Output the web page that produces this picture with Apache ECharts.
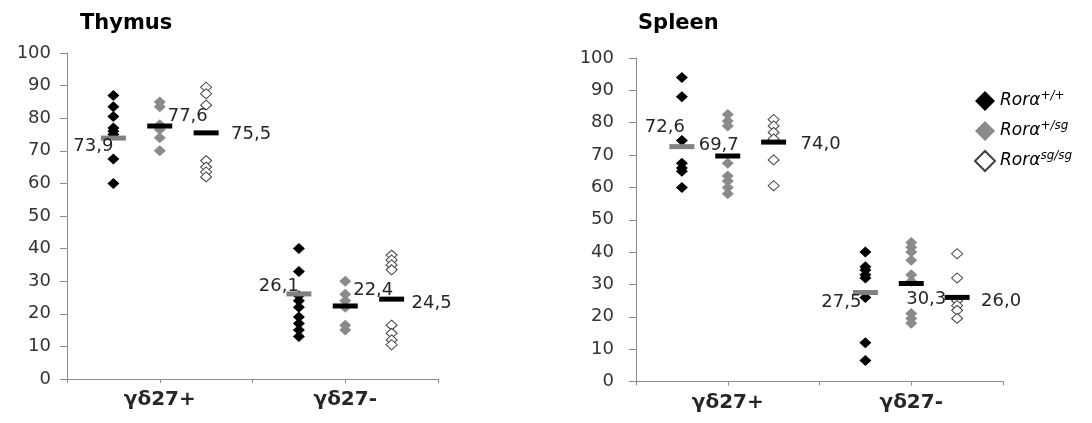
<!DOCTYPE html>
<html>
<head>
<meta charset="utf-8">
<script src="https://cdn.jsdelivr.net/npm/echarts@6/dist/echarts.min.js"></script>
<style>
html, body { margin: 0; padding: 0; background: #fff; }
#echart { width: 1092px; height: 423px; }
</style>
</head>
<body>
<div id="echart"></div>
<script>
// categories and groups
var categories = ['γδ27+', 'γδ27-'];
var categoryX = [1, 3];
var groupShift = [-0.5, 0, 0.5];
var groupNames = ['Rorα+/+', 'Rorα+/sg', 'Rorαsg/sg'];
var groupSup = ['+/+', '+/sg', 'sg/sg'];
var yTicks = [0, 100, 10];

// Thymus, % of γδ T cells
var thymusPosWt = [87, 83.5, 80.5, 77, 76, 75, 67.5, 60];
var thymusPosHet = [85, 83.5, 78, 76.5, 74, 70];
var thymusPosSg = [89.5, 87.5, 84, 67, 65, 63.5, 62];
var thymusNegWt = [40, 33, 25.5, 24, 22, 19, 17, 15, 13];
var thymusNegHet = [30, 26, 24, 22, 16.5, 15];
var thymusNegSg = [38, 36.5, 35, 33.5, 16.5, 14, 12, 10.5];
var thymusMeanPos = [73.9, 77.6, 75.5];
var thymusMeanNeg = [26.1, 22.4, 24.5];

// Spleen
var spleenPosWt = [94, 88, 74.5, 67.5, 66, 65, 60];
var spleenPosHet = [82.5, 80.5, 79, 67.5, 63.5, 62, 60, 58];
var spleenPosSg = [81, 79, 77, 75, 68.5, 60.5];
var spleenNegWt = [40, 35.5, 34.5, 33, 32, 26, 12, 6.5];
var spleenNegHet = [43, 41.5, 40, 37.5, 33, 31, 21, 19.5, 18];
var spleenNegSg = [39.5, 32, 25, 23.5, 22, 19.5];
var spleenMeanPos = [72.6, 69.7, 74.0];
var spleenMeanNeg = [27.5, 30.3, 26.0];

// styles
var diamondStyles = [
    { color: '#000', borderColor: '#000', borderWidth: 0, opacity: 1 },
    { color: '#8a8a8a', borderColor: '#8a8a8a', borderWidth: 0, opacity: 1 },
    { color: '#fff', borderColor: '#404040', borderWidth: 1, opacity: 1 }
];
var diamondSizes = [[12, 11], [12, 11], [11, 10]];
var meanColors = ['#808080', '#000', '#000'];
// label offsets (px) from the mean bar, like the hand-placed excel labels
var thymusLabelOffsets = [[[-20, 8], [28, -10], [45, 1]], [[-20, -8], [28, -16], [40, 4]]];
var spleenLabelOffsets = [[[-17, -19], [-9, -11], [47, 2]], [[-24, 10], [15, 16], [44, 4]]];

var font = 'DejaVu Sans';

function fmt(v) {
    return v.toFixed(1).replace('.', ',');
}

function points(arr, x) {
    return arr.map(function (v) { return [x, v]; });
}

function panelSeries(gridIndex, posGroups, negGroups, meansPos, meansNeg, offsets) {
    var out = [];
    for (var g = 0; g < 3; g++) {
        out.push({
            name: groupNames[g],
            type: 'scatter',
            xAxisIndex: gridIndex,
            yAxisIndex: gridIndex,
            symbol: 'diamond',
            symbolSize: diamondSizes[g],
            itemStyle: diamondStyles[g],
            data: points(posGroups[g], categoryX[0] + groupShift[g])
                .concat(points(negGroups[g], categoryX[1] + groupShift[g])),
            z: 2
        });
    }
    var meanData = [];
    [meansPos, meansNeg].forEach(function (means, c) {
        means.forEach(function (m, g) {
            meanData.push({
                value: [categoryX[c] + groupShift[g], m],
                itemStyle: { color: meanColors[g], opacity: 1 },
                label: { offset: offsets[c][g] }
            });
        });
    });
    out.push({
        name: 'mean',
        type: 'scatter',
        xAxisIndex: gridIndex,
        yAxisIndex: gridIndex,
        symbol: 'rect',
        symbolSize: [25, 5],
        data: meanData,
        z: 3,
        label: {
            show: true,
            position: 'inside',
            fontFamily: font,
            fontSize: 18,
            color: '#262626',
            formatter: function (p) { return fmt(p.value[1]); }
        }
    });
    return out;
}

function xAxisFor(gridIndex) {
    return {
        type: 'value',
        gridIndex: gridIndex,
        min: 0,
        max: 4,
        interval: 1,
        splitLine: { show: false },
        axisLine: { show: true, lineStyle: { color: '#8c8c8c', width: 1 } },
        axisTick: { show: true, length: 4, lineStyle: { color: '#8c8c8c' } },
        axisLabel: {
            margin: 11,
            fontFamily: font,
            fontSize: 20,
            fontWeight: 'bold',
            color: '#262626',
            formatter: function (v) {
                var i = categoryX.indexOf(v);
                return i >= 0 ? categories[i] : '';
            }
        }
    };
}

function yAxisFor(gridIndex, margin) {
    return {
        type: 'value',
        gridIndex: gridIndex,
        min: yTicks[0],
        max: yTicks[1],
        interval: yTicks[2],
        splitLine: { show: false },
        axisLine: { show: true, lineStyle: { color: '#8c8c8c', width: 1 } },
        axisTick: { show: true, length: 7, lineStyle: { color: '#8c8c8c' } },
        axisLabel: { margin: margin, fontFamily: font, fontSize: 18, color: '#333' }
    };
}

var chartDom = document.getElementById('echart');
var myChart = echarts.init(chartDom);

var option = {
    animation: false,
    backgroundColor: '#fff',
    title: [
        { text: 'Thymus', left: 80, top: 13, padding: 0, textStyle: { fontFamily: font, fontSize: 21, fontWeight: 'bold', color: '#000' } },
        { text: 'Spleen', left: 638, top: 13, padding: 0, textStyle: { fontFamily: font, fontSize: 21, fontWeight: 'bold', color: '#000' } }
    ],
    legend: {
        orient: 'vertical',
        left: 969,
        top: 85,
        itemWidth: 20,
        itemHeight: 20,
        itemGap: 9,
        data: groupNames,
        formatter: function (name) {
            return '{i|Rorα}{s|' + groupSup[groupNames.indexOf(name)] + '}';
        },
        textStyle: {
            rich: {
                i: { fontFamily: font, fontStyle: 'italic', fontSize: 17, color: '#000', lineHeight: 22 },
                s: { fontFamily: font, fontStyle: 'italic', fontSize: 12, color: '#000', verticalAlign: 'top', lineHeight: 12 }
            }
        }
    },
    grid: [
        { left: 67, top: 53, width: 371, height: 326 },
        { left: 636, top: 58, width: 367, height: 323.5 }
    ],
    xAxis: [xAxisFor(0), xAxisFor(1)],
    yAxis: [yAxisFor(0, 16), yAxisFor(1, 22)],
    series: panelSeries(0,
        [thymusPosWt, thymusPosHet, thymusPosSg],
        [thymusNegWt, thymusNegHet, thymusNegSg],
        thymusMeanPos, thymusMeanNeg, thymusLabelOffsets)
        .concat(panelSeries(1,
        [spleenPosWt, spleenPosHet, spleenPosSg],
        [spleenNegWt, spleenNegHet, spleenNegSg],
        spleenMeanPos, spleenMeanNeg, spleenLabelOffsets))
};

myChart.setOption(option);

window.addEventListener('resize', function () {
    myChart.resize();
});
</script>
</body>
</html>
